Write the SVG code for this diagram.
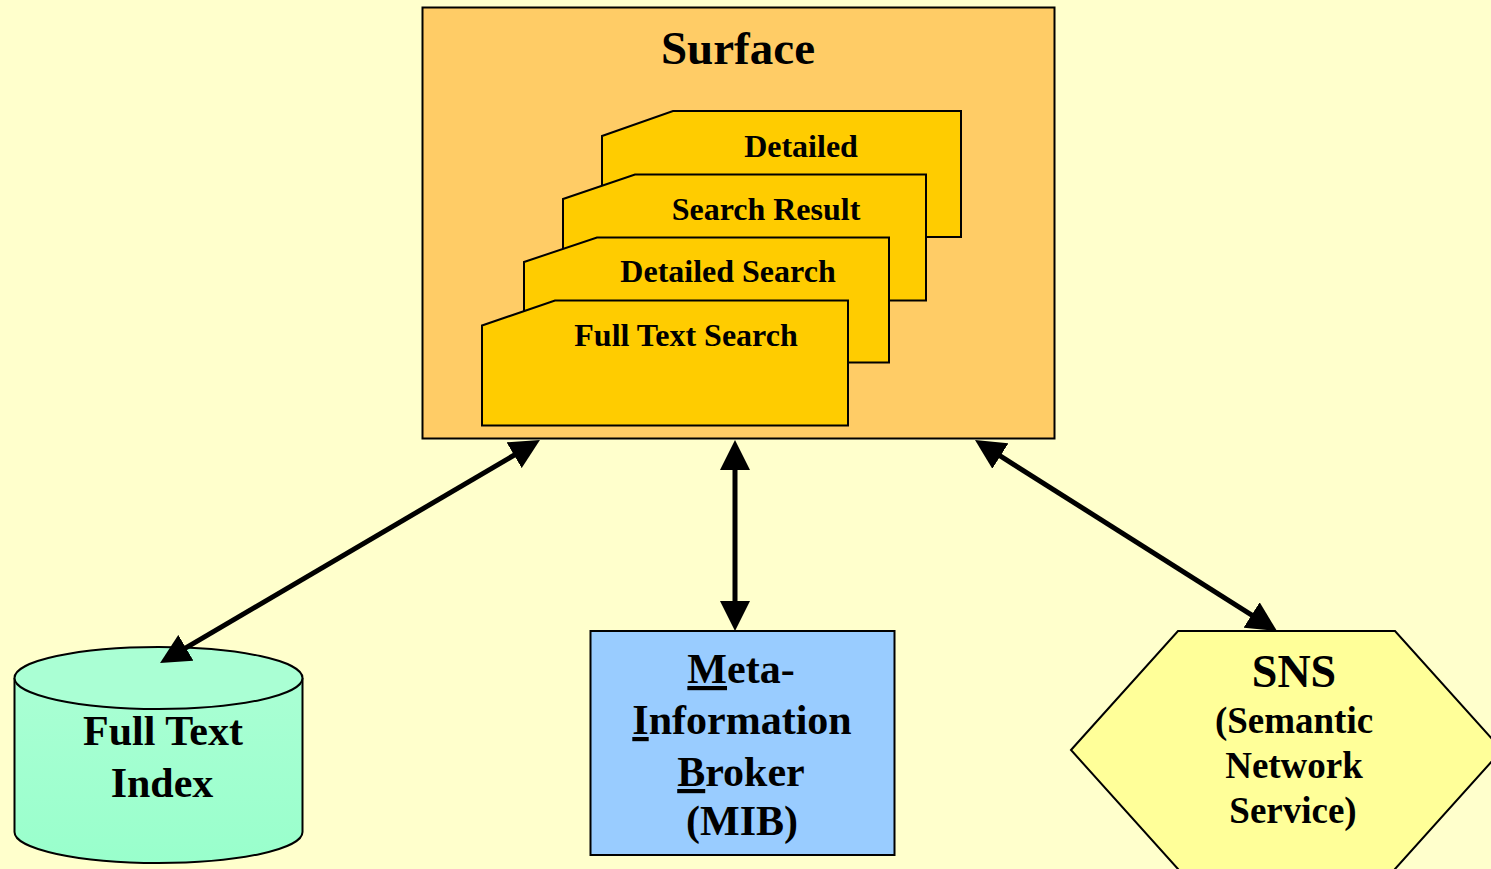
<svg xmlns="http://www.w3.org/2000/svg" width="1491" height="869" viewBox="0 0 1491 869">
<style>
text{font-family:"Liberation Serif","Times New Roman",serif;font-weight:bold;fill:#000;text-anchor:middle}
.card{fill:#ffcc00;stroke:#000;stroke-width:2}
.node{stroke:#000;stroke-width:2}
.conn{stroke:#000;stroke-width:5;fill:none;marker-start:url(#ah);marker-end:url(#ah)}
.u{text-decoration:underline}
</style>
<defs>
<marker id="ah" markerUnits="userSpaceOnUse" markerWidth="30" markerHeight="30" refX="10" refY="15" orient="auto-start-reverse" viewBox="0 0 30 30">
<path d="M0,0 L30,15 L0,30 z" fill="#000"/>
</marker>
<linearGradient id="cyl" x1="0" y1="0" x2="0" y2="1">
<stop offset="0" stop-color="#aaffd4"/>
<stop offset="1" stop-color="#99ffcc"/>
</linearGradient>
</defs>
<rect x="0" y="0" width="1491" height="869" fill="#ffffcc"/>

<g id="surface">
<rect class="node" x="422.5" y="7.5" width="632" height="431" fill="#ffcc66"/>
<text x="738" y="64" font-size="47">Surface</text>
<g id="card-detailed">
<polygon class="card" points="602,136 673,111 961,111 961,237 602,237"/>
<text x="801" y="157" font-size="32">Detailed</text>
</g>
<g id="card-search-result">
<polygon class="card" points="563,199 635,174.5 926,174.5 926,300.5 563,300.5"/>
<text x="766" y="219.5" font-size="32">Search Result</text>
</g>
<g id="card-detailed-search">
<polygon class="card" points="524,262 597,237.5 889,237.5 889,362.5 524,362.5"/>
<text x="728" y="282" font-size="32">Detailed Search</text>
</g>
<g id="card-full-text-search">
<polygon class="card" points="482,325.5 555,300.5 848,300.5 848,425.5 482,425.5"/>
<text x="686" y="346" font-size="32">Full Text Search</text>
</g>
</g>

<g id="full-text-index">
<path class="node" d="M14.5,678 L14.5,832 A144,31 0 0 0 302.5,832 L302.5,678" fill="url(#cyl)"/>
<ellipse class="node" cx="158.5" cy="678" rx="144" ry="31" fill="#aaffd4"/>
<text x="163" y="745" font-size="42">Full Text</text>
<text x="162" y="797" font-size="42">Index</text>
</g>

<g id="mib">
<rect class="node" x="590.5" y="631" width="304" height="224" fill="#99ccff"/>
<text x="741" y="683" font-size="42"><tspan class="u">M</tspan>eta-</text>
<text x="742" y="734" font-size="42"><tspan class="u">I</tspan>nformation</text>
<text x="741" y="786" font-size="42"><tspan class="u">B</tspan>roker</text>
<text x="742" y="835" font-size="42">(MIB)</text>
</g>

<g id="sns">
<polygon class="node" points="1071,750 1178,631 1395,631 1502,750 1395,869 1397,874 1176,874 1178,869" fill="#ffff99"/>
<text x="1294" y="687" font-size="46">SNS</text>
<text x="1294" y="733" font-size="37">(Semantic</text>
<text x="1294" y="778" font-size="37">Network</text>
<text x="1293" y="823" font-size="37">Service)</text>
</g>

<g id="connectors">
<line class="conn" x1="522.7" y1="450.1" x2="177.3" y2="652.9"/>
<line class="conn" x1="735" y1="460" x2="735" y2="611"/>
<line class="conn" x1="991.9" y1="450.7" x2="1260.1" y2="620.3"/>
</g>
</svg>
